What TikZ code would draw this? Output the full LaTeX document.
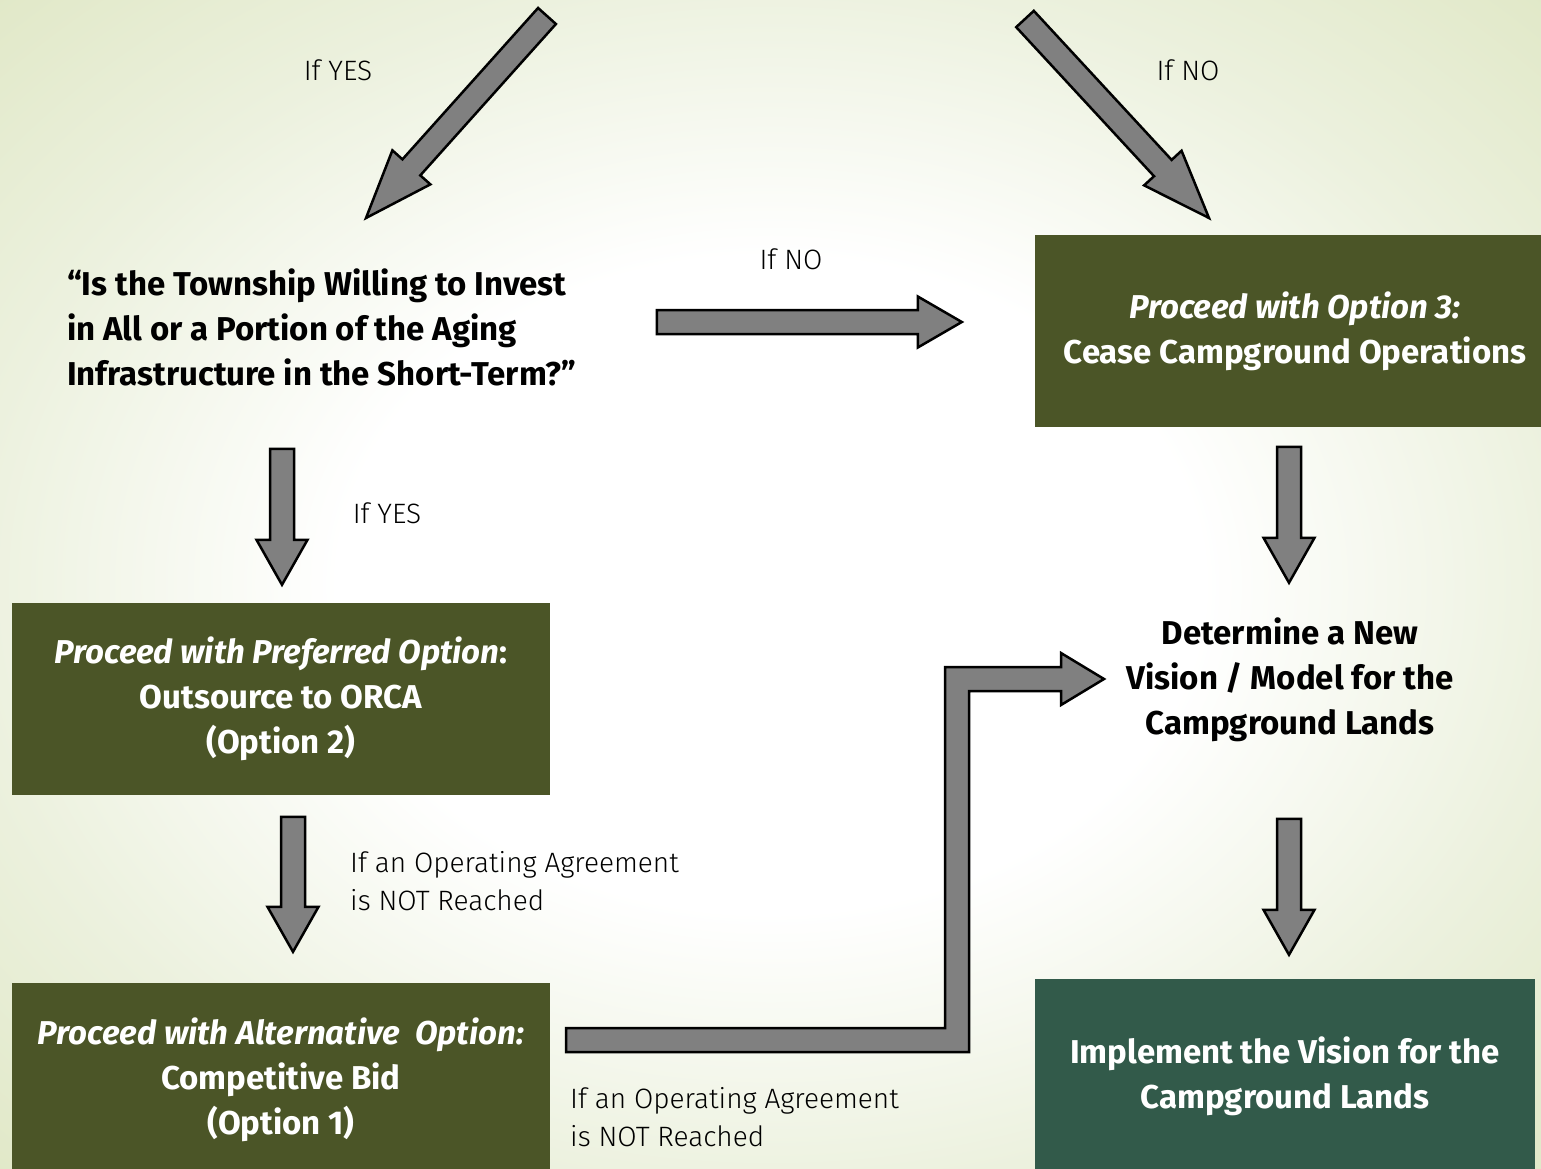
\documentclass[tikz,border=0pt]{standalone}
\usepackage{fontspec}
\setmainfont{Fira Sans}
\newfontfamily\thinfont{Fira Sans Light}
\usetikzlibrary{calc}

\definecolor{bgmid}{RGB}{236,241,222}
\definecolor{bgedge}{RGB}{222,230,194}
\definecolor{olivebox}{RGB}{75,85,39}
\definecolor{tealbox}{RGB}{50,90,74}
\definecolor{arrowgray}{RGB}{128,128,128}

\pgfdeclareradialshading{paper}{\pgfpoint{0bp}{0bp}}{color(0bp)=(white); color(14bp)=(white); color(26bp)=(bgmid); color(38bp)=(bgedge); color(50bp)=(bgedge)}

% fat grey arrow from #2 to #3, #1 is the head length
\newcommand{\blockarrow}[3][45]{%
  \filldraw[arrowbody] let \p1=(#2), \p2=(#3),
    \n1={atan2(\y2-\y1,\x2-\x1)}, \n2={veclen(\x2-\x1,\y2-\y1)} in
    [shift={(\p1)}, rotate=\n1]
    (0pt,-12pt) -- (\n2-#1pt,-12pt) -- (\n2-#1pt,-25.5pt) -- (\n2,0pt)
    -- (\n2-#1pt,25.5pt) -- (\n2-#1pt,12pt) -- (0pt,12pt) -- cycle;}

\tikzset{
  boxtext/.style={font=\fontsize{33}{45}\selectfont\bfseries, align=center, inner sep=0pt},
  greenbox/.style={boxtext, fill=olivebox, text=white},
  darkbox/.style={greenbox, fill=tealbox},
  plaintext/.style={boxtext, text=black},
  iflabel/.style={font=\fontsize{28}{38}\selectfont\thinfont, align=left, inner sep=0pt},
  arrowbody/.style={fill=arrowgray, draw=black, line width=2.5pt, line join=miter},
}

\begin{document}
\begin{tikzpicture}[x=1pt, y=-1pt]
  % background
  \useasboundingbox (0,0) rectangle (1541,1169);
  \shade[shading=paper] (0,0) rectangle (1541,1169);

  % boxes and questions
  \node[plaintext, anchor=west, align=left] (question) at (67,327)
    {“Is the Township Willing to Invest\\in All or a Portion of the Aging\\Infrastructure in the Short-Term?”};
  \node[greenbox, minimum width=520, minimum height=192] (option3) at (1295,331)
    {\textit{Proceed with Option 3:}\\Cease Campground Operations};
  \node[greenbox, minimum width=538, minimum height=192] (preferred) at (281,699)
    {\textit{Proceed with Preferred Option}:\\Outsource to ORCA\\(Option 2)};
  \node[greenbox, minimum width=538, minimum height=194] (alternative) at (281,1080)
    {\textit{Proceed with Alternative~ Option:}\\Competitive Bid\\(Option 1)};
  \node[plaintext] (vision) at (1290,680)
    {Determine a New\\Vision / Model for the\\Campground Lands};
  \node[darkbox, minimum width=500, minimum height=194] (implement) at (1285,1076)
    {Implement the Vision for the\\Campground Lands};

  % labels
  \node[iflabel] (yesTop) at (338,70) {If YES};
  \node[iflabel] (noTop) at (1188,70) {If NO};
  \node[iflabel] (noMid) at (791,259) {If NO};
  \node[iflabel] (yesMid) at (387,513) {If YES};
  \node[iflabel, anchor=west] (agreeLeft) at (350,881) {If an Operating Agreement\\is NOT Reached};
  \node[iflabel, anchor=west] (agreeRight) at (570,1117) {If an Operating Agreement\\is NOT Reached};

  % arrow ends
  \coordinate (yesTail) at (547,16);
  \coordinate (yesTip) at (366,218);
  \coordinate (noTail) at (1025,19);
  \coordinate (noTip) at (1209,218);
  \coordinate (noMidTip) at ($(option3.west)+(-73,-9)$);
  \coordinate (noMidTail) at ($(noMidTip)+(-305,0)$);
  \coordinate (prefTip) at ($(preferred.north)+(1,-18)$);
  \coordinate (prefTail) at ($(prefTip)+(0,-136)$);
  \coordinate (visionTip) at ($(vision.north)+(-1,-35)$);
  \coordinate (visionTail) at ($(visionTip)+(0,-136)$);
  \coordinate (altTip) at ($(alternative.north)+(12,-31)$);
  \coordinate (altTail) at ($(altTip)+(0,-135)$);
  \coordinate (implTip) at ($(implement.north)+(4,-24)$);
  \coordinate (implTail) at ($(implTip)+(0,-136)$);

  % straight arrows
  \blockarrow[68]{yesTail}{yesTip}
  \blockarrow[68]{noTail}{noTip}
  \blockarrow[44]{noMidTail}{noMidTip}
  \blockarrow{prefTail}{prefTip}
  \blockarrow{visionTail}{visionTip}
  \blockarrow{altTail}{altTip}
  \blockarrow{implTail}{implTip}

  % elbow arrow from the alternative option up to the new vision
  \filldraw[arrowbody] (566,1028) -- (945,1028) -- (945,667) -- (1061,667)
    -- (1061,653) -- (1104,679) -- (1061,705) -- (1061,691) -- (969,691)
    -- (969,1052) -- (566,1052) -- cycle;
\end{tikzpicture}
\end{document}
